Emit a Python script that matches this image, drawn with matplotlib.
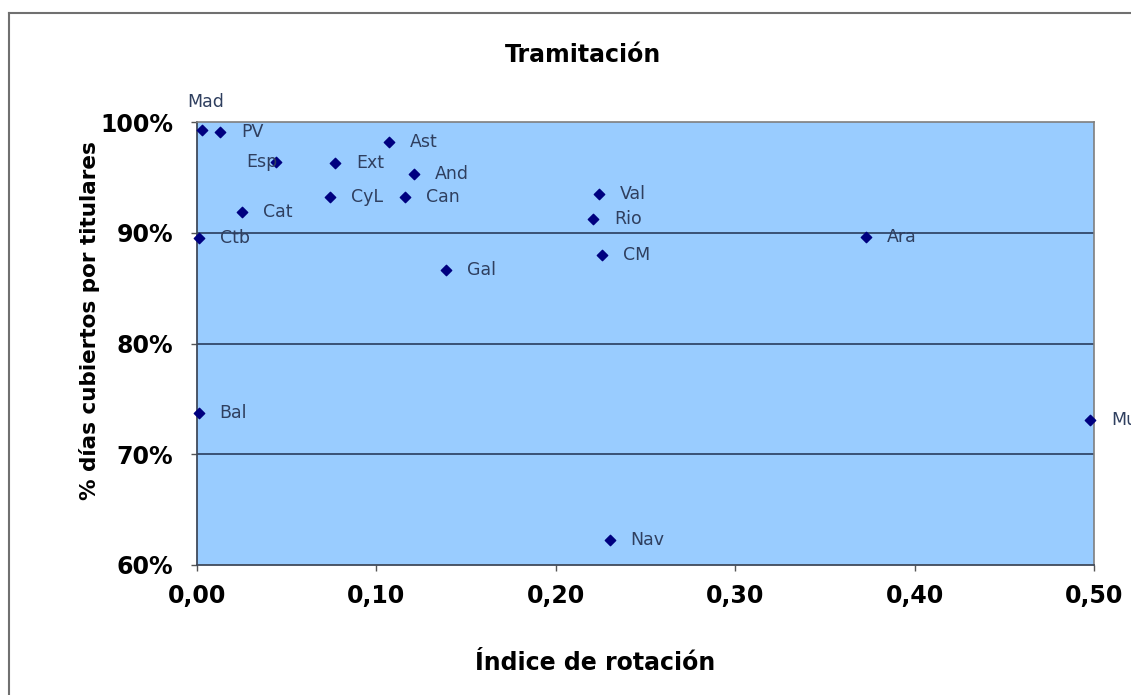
import matplotlib
matplotlib.use("Agg")
import matplotlib.pyplot as plt
from matplotlib.lines import Line2D
from matplotlib.ticker import FuncFormatter

# Rotation index vs. share of days covered by permanent staff, by region
regiones = ["Mad", "PV", "Esp", "Ext", "Ast", "And", "CyL", "Can", "Cat", "Ctb",
            "Val", "Rio", "CM", "Gal", "Ara", "Bal", "Mu", "Nav"]
rotacion = [0.003, 0.013, 0.044, 0.077, 0.107, 0.121, 0.074, 0.116, 0.025, 0.001,
            0.224, 0.221, 0.226, 0.139, 0.373, 0.001, 0.498, 0.230]
cubiertos = [0.993, 0.991, 0.964, 0.963, 0.982, 0.953, 0.932, 0.932, 0.919, 0.895,
             0.935, 0.912, 0.880, 0.866, 0.896, 0.737, 0.731, 0.623]

x_ticks = [0.0, 0.1, 0.2, 0.3, 0.4, 0.5]
y_ticks = [0.6, 0.7, 0.8, 0.9, 1.0]

# label offsets in points (dx, dy) and alignment
offsets = {"Mad": (-11, 20, "left"), "Esp": (1, 0, "right")}

navy = "#000080"
label_col = "#2f3f5f"

fig = plt.figure(figsize=(11.31, 6.95), dpi=100)
ax = fig.add_axes([197 / 1131, 1 - 565 / 695, (1094 - 197) / 1131, (565 - 122) / 695])

ax.set_facecolor("#99ccff")
ax.scatter(rotacion, cubiertos, marker="D", s=28, color=navy, zorder=3, clip_on=False)

for name, x, y in zip(regiones, rotacion, cubiertos):
    dx, dy, ha = offsets.get(name, (15, 0, "left"))
    ax.annotate(name, (x, y), xytext=(dx, dy), textcoords="offset points",
                ha=ha, va="center", fontsize=12.5, color=label_col,
                annotation_clip=False, zorder=4)

ax.set_xlim(0, 0.5)
ax.set_ylim(0.6, 1.0)
ax.set_xticks(x_ticks)
ax.set_yticks(y_ticks)
ax.xaxis.set_major_formatter(FuncFormatter(lambda v, p: f"{v:.2f}".replace(".", ",")))
ax.yaxis.set_major_formatter(FuncFormatter(lambda v, p: f"{v * 100:.0f}%"))

for y in [0.7, 0.8, 0.9]:
    ax.axhline(y, color="#1f3050", lw=1.1, zorder=1)

for side in ["left", "bottom"]:
    ax.spines[side].set_color("#404a5a")
    ax.spines[side].set_linewidth(1.3)
for side in ["top", "right"]:
    ax.spines[side].set_color("#7f7f7f")
    ax.spines[side].set_linewidth(1.2)

ax.tick_params(axis="both", direction="out", length=4, width=1, color="#555555",
               labelsize=17)
for lab in ax.get_xticklabels() + ax.get_yticklabels():
    lab.set_fontweight("bold")
ax.tick_params(axis="x", pad=10)
ax.tick_params(axis="y", pad=13)

ax.set_xlabel("Índice de rotación", fontsize=17, fontweight="bold")
ax.xaxis.set_label_coords((595 - 197) / 897, -(663 - 565) / 443)
ax.xaxis.label.set_va("center")
ax.set_ylabel("% días cubiertos por titulares", fontsize=15.5, fontweight="bold")
ax.yaxis.set_label_coords(-(197 - 90) / 897, (565 - 321) / 443)
ax.yaxis.label.set_va("center")

fig.text(583 / 1131, 1 - 55 / 695, "Tramitación", fontsize=17, fontweight="bold",
         ha="center", va="center")

# outer chart frame (left and top edges)
fig.add_artist(Line2D([9 / 1131, 9 / 1131], [0, 1 - 13 / 695], transform=fig.transFigure,
                      color="#707070", lw=1.5))
fig.add_artist(Line2D([9 / 1131, 1], [1 - 13 / 695, 1 - 13 / 695], transform=fig.transFigure,
                      color="#707070", lw=1.5))

fig.savefig("out.png", dpi=100)
